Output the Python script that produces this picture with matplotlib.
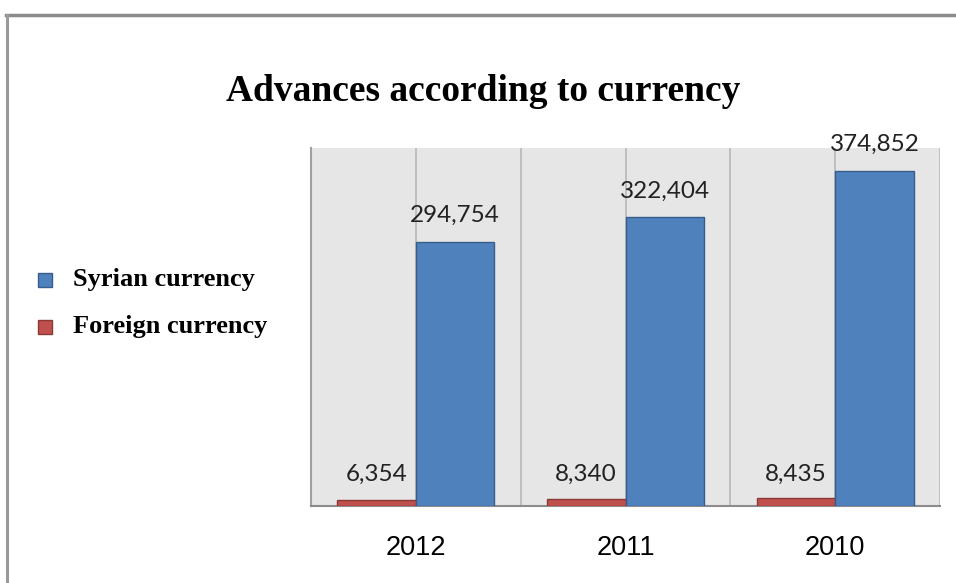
import matplotlib
matplotlib.use('Agg')

import numpy as np
import matplotlib.pyplot as plt
from matplotlib.lines import Line2D
from matplotlib.patches import Rectangle

# Advances by currency, per year
years = ['2012', '2011', '2010']
syrian = [294754, 322404, 374852]
foreign = [6354, 8340, 8435]

blue, blue_edge = '#4f81bd', '#385d8a'
red, red_edge = '#c0504d', '#8c3836'

fig = plt.figure(figsize=(9.56, 5.83), dpi=100)
ax = fig.add_axes([0.3253, 0.1321, 0.6580, 0.6140])
ax.set_facecolor('#e6e6e6')

x = np.arange(len(years))
width = 0.375

# gridlines at category edges and centres
for gx in np.arange(-0.5, len(years), 0.5):
    ax.axvline(gx, color='#b8b8b8', lw=1.2, zorder=1)

ax.bar(x - width / 2, foreign, width, color=red, edgecolor=red_edge, lw=1, zorder=3)
ax.bar(x + width / 2, syrian, width, color=blue, edgecolor=blue_edge, lw=1, zorder=3)

for i in range(len(years)):
    ax.text(x[i] + width / 2, syrian[i] + 18000, f'{syrian[i]:,}',
            ha='center', va='bottom', fontsize=17.5, family='Lato', color='#222222')
    ax.text(x[i] - width / 2, 24000, f'{foreign[i]:,}',
            ha='center', va='bottom', fontsize=17.5, family='Lato', color='#222222')

ax.set_xlim(-0.5, len(years) - 0.5)
ax.set_ylim(0, 400000)
ax.set_yticks([])
ax.set_xticks(x)
ax.set_xticklabels(years, fontsize=19.5, family='Liberation Sans')
ax.tick_params(axis='x', length=0, pad=21)
for side in ['top', 'right']:
    ax.spines[side].set_visible(False)
ax.spines['left'].set_color('#a0a0a0')
ax.spines['left'].set_linewidth(1.5)
ax.spines['bottom'].set_color('#8c8c8c')
ax.spines['bottom'].set_linewidth(1.5)

fig.text(0.505, 0.843, 'Advances according to currency', ha='center', va='center',
         fontsize=27, fontweight='bold', family='Liberation Serif')

# legend on the left
legend_items = [('Syrian currency', blue, blue_edge, 280), ('Foreign currency', red, red_edge, 327)]
for label, fc, ec, ypix in legend_items:
    fig.patches.append(Rectangle((38 / 956, 1 - (ypix + 7) / 583), 14 / 956, 14 / 583,
                                 transform=fig.transFigure, facecolor=fc, edgecolor=ec, lw=1))
    fig.text(73 / 956, 1 - ypix / 583, label, ha='left', va='center',
             fontsize=19, fontweight='bold', family='Liberation Serif')

# frame lines along the top and left
fig.add_artist(Line2D([6 / 956, 1], [1 - 15 / 583, 1 - 15 / 583], color='#8c8c8c', lw=2.5))
fig.add_artist(Line2D([7 / 956, 7 / 956], [0, 1 - 15 / 583], color='#9a9a9a', lw=2.2))

fig.savefig('out.png', dpi=100)
